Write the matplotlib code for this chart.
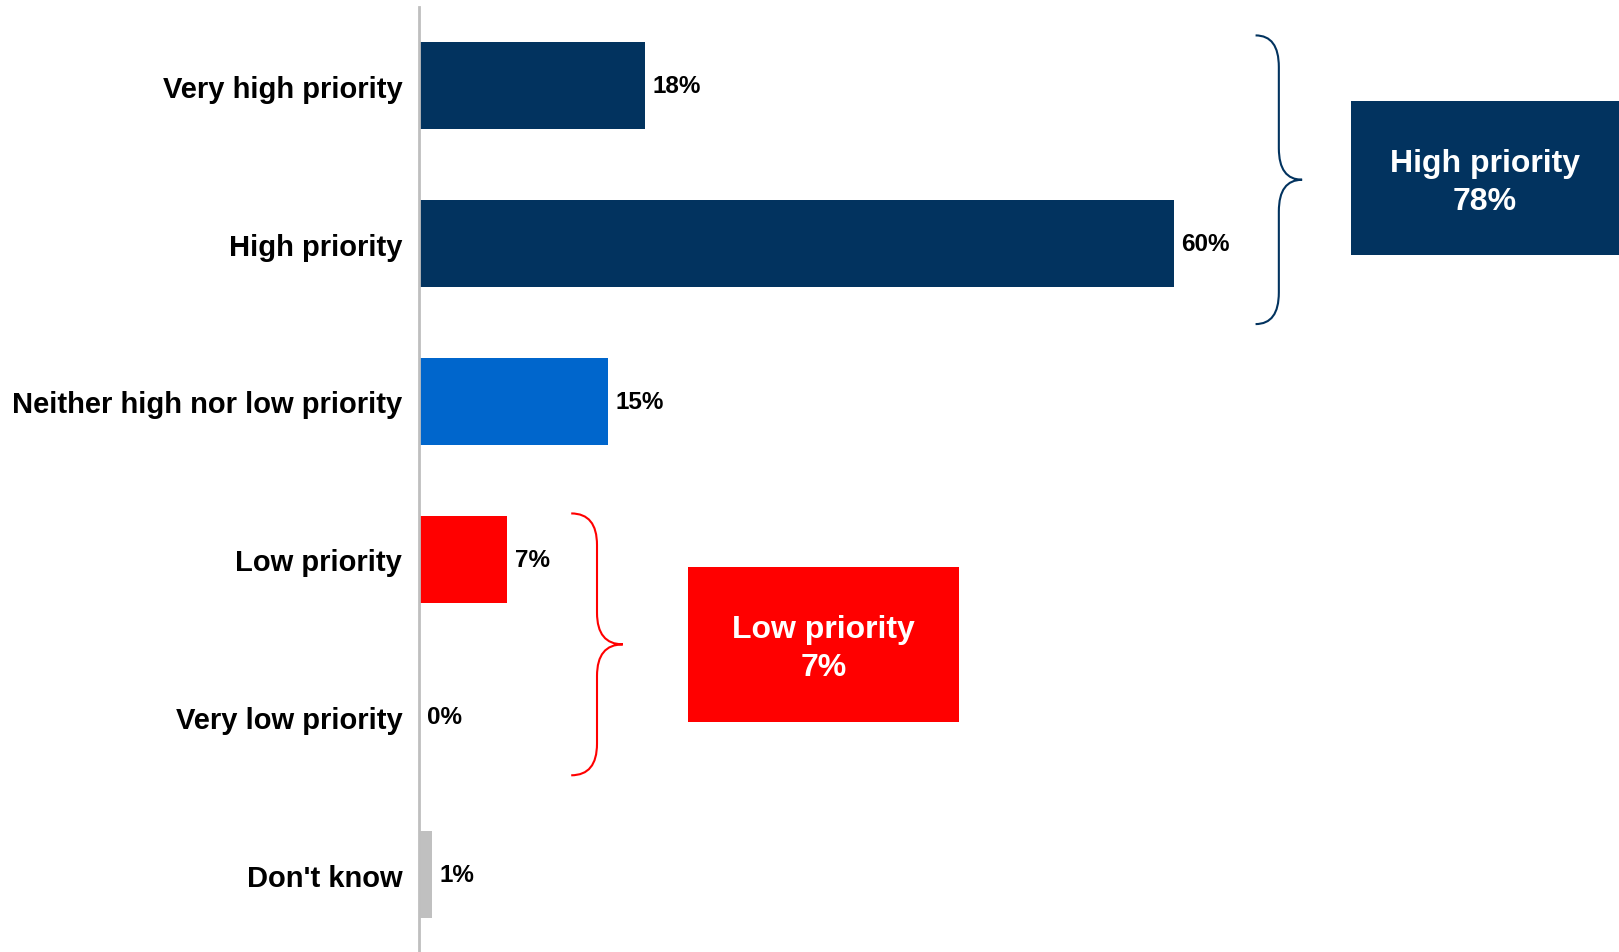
import matplotlib.pyplot as plt
from matplotlib.path import Path
from matplotlib.patches import PathPatch, Rectangle

plt.rcParams['font.family'] = ['Liberation Sans', 'DejaVu Sans']

categories = ['Very high priority', 'High priority', 'Neither high nor low priority',
              'Low priority', 'Very low priority', "Don't know"]
values = [18, 60, 15, 7, 0, 1]
colors = ['#02335F', '#02335F', '#0066CC', '#FF0000', '#FF0000', '#C0C0C0']

NAVY = '#02335F'
RED = '#FF0000'


def brace(ax, xa, xt, ya, yb, r, color):
    # curly brace opening to the right, tip at xt
    xs = (xa + xt) / 2.0
    ym = (ya + yb) / 2.0
    verts = [(xa, ya), (xs, ya), (xs, ya + r),
             (xs, ym - r), (xs, ym), (xt, ym),
             (xs, ym), (xs, ym + r),
             (xs, yb - r), (xs, yb), (xa, yb)]
    codes = [Path.MOVETO, Path.CURVE3, Path.CURVE3,
             Path.LINETO, Path.CURVE3, Path.CURVE3,
             Path.CURVE3, Path.CURVE3,
             Path.LINETO, Path.CURVE3, Path.CURVE3]
    ax.add_patch(PathPatch(Path(verts, codes), facecolor='none', edgecolor=color,
                           lw=1.5, clip_on=False))


fig = plt.figure(figsize=(16.19, 9.53), dpi=100)
ax = fig.add_axes([419 / 1619, 0, 1200 / 1619, 945 / 953])

y = list(range(len(categories)))
ax.barh(y, values, height=0.55, color=colors)
ax.set_xlim(0, 1200 / 12.58)
ax.set_ylim(5.49, -0.5)

for yi, v in zip(y, values):
    ax.text(v + 0.6, yi, f'{v}%', va='center', ha='left', fontsize=17.5, fontweight='bold')

ax.set_yticks(y)
ax.set_yticklabels(categories, fontsize=21, fontweight='bold')
ax.tick_params(axis='y', length=0, pad=12)
ax.set_xticks([])
for s in ['top', 'right', 'bottom']:
    ax.spines[s].set_visible(False)
ax.spines['left'].set_color('#BFBFBF')
ax.spines['left'].set_linewidth(2)

# summary braces
brace(ax, 66.5, 70.2, -0.32, 1.51, 0.2, NAVY)
brace(ax, 12.1, 16.2, 2.71, 4.37, 0.2, RED)

high = values[0] + values[1]
low = values[3] + values[4]

ax.add_patch(Rectangle((74.1, 0.095), 95.4 - 74.1, 0.98, facecolor=NAVY,
                       edgecolor='none', clip_on=False))
ax.text((74.1 + 95.4) / 2, 0.61, f'High priority\n{high}%', ha='center', va='center',
        color='white', fontsize=23, fontweight='bold', linespacing=1.35)

ax.add_patch(Rectangle((21.4, 3.05), 42.9 - 21.4, 0.98, facecolor=RED,
                       edgecolor='none', clip_on=False))
ax.text((21.4 + 42.9) / 2, 3.565, f'Low priority\n{low}%', ha='center', va='center',
        color='white', fontsize=23, fontweight='bold', linespacing=1.35)

fig.savefig('out.png', dpi=100)
